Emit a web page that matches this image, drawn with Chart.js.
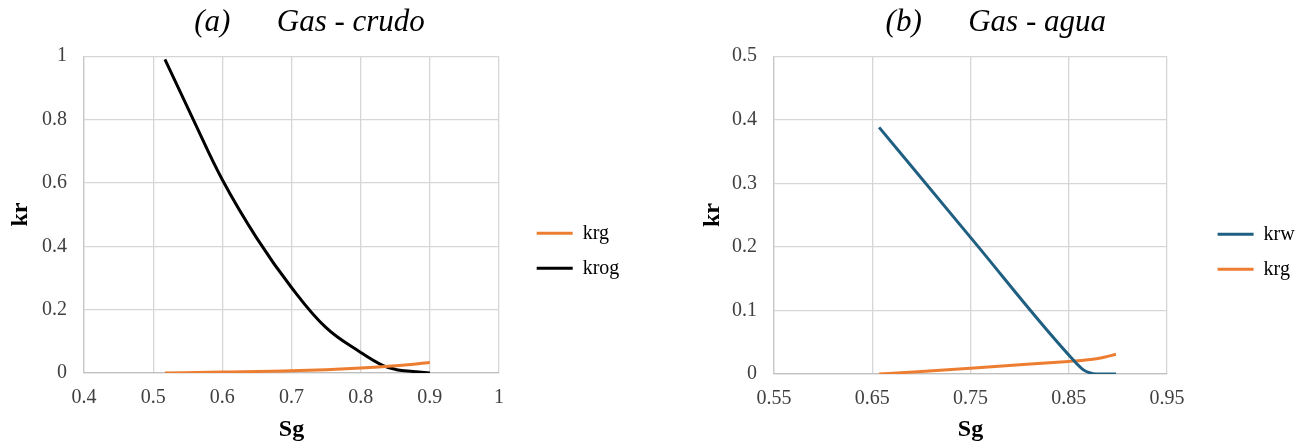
<!DOCTYPE html>
<html>
<head>
<meta charset="utf-8">
<script src="https://cdn.jsdelivr.net/npm/chart.js@4.4.1/dist/chart.umd.min.js"></script>
<style>
  html, body { margin: 0; padding: 0; background: #ffffff; }
  #wrap { display: flex; width: 1310px; height: 445px; }
  canvas { display: block; }
</style>
</head>
<body>
<div id="wrap">
  <canvas id="chartA" width="655" height="445"></canvas>
  <canvas id="chartB" width="655" height="445"></canvas>
</div>
<script>
// ---------- Data ----------
// (a) Gas - crudo
const sgKrgA  = [0.517, 0.6, 0.7, 0.8, 0.85, 0.9];
const krgA    = [0, 0.003, 0.007, 0.016, 0.023, 0.033];
const sgKrogA = [0.517, 0.558, 0.6, 0.65, 0.7, 0.75, 0.8, 0.8325, 0.852, 0.876, 0.9];
const krogA   = [0.99, 0.8, 0.61, 0.425, 0.27, 0.143, 0.065, 0.023, 0.0105, 0.005, 0];
// (b) Gas - agua
const sgKrwB  = [0.657, 0.75, 0.8565, 0.865, 0.871, 0.878, 0.898];
const krwB    = [0.388, 0.215, 0.019, 0.0065, 0.002, 0, 0];
const sgKrgB  = [0.657, 0.7, 0.75, 0.8, 0.85, 0.87, 0.885, 0.898];
const krgB    = [0, 0.004, 0.009, 0.0145, 0.0198, 0.0225, 0.026, 0.031];

// Tick labels
const xTicksA = [0.4, 0.5, 0.6, 0.7, 0.8, 0.9, 1];
const yTicksA = [0, 0.2, 0.4, 0.6, 0.8, 1];
const xTicksB = [0.55, 0.65, 0.75, 0.85, 0.95];
const yTicksB = [0, 0.1, 0.2, 0.3, 0.4, 0.5];

const titleA = '(a)      Gas - crudo';
const titleB = '(b)      Gas - agua';
const xTitle = 'Sg';
const yTitle = 'kr';

const ORANGE = '#ED7D31';
const BLACK = '#000000';
const BLUE = '#1F5F82';
const SERIF = '"Liberation Serif", "Times New Roman", Times, serif';

function pts(xs, ys) { return xs.map((x, i) => ({ x: x, y: ys[i] })); }

// plugin to nudge legend/title blocks after layout
const nudge = {
  id: 'nudge',
  afterLayout(chart, args, opts) {
    const lg = chart.legend;
    if (lg) {
      lg.left += opts.legendDx; lg.right += opts.legendDx;
      lg.top += opts.legendDy; lg.bottom += opts.legendDy;
    }
    const t = chart.titleBlock;
    if (t) { t.left += opts.titleDx; t.right += opts.titleDx; }
  }
};

function lineDs(label, xs, ys, color, smooth) {
  const ds = {
    label: label,
    data: pts(xs, ys),
    showLine: true,
    borderColor: color,
    backgroundColor: color,
    borderWidth: 3,
    pointRadius: 0,
    pointHoverRadius: 0,
    fill: false
  };
  if (smooth === 'bezier') { ds.tension = 0.4; ds.cubicInterpolationMode = 'default'; }
  else { ds.cubicInterpolationMode = 'monotone'; }
  return ds;
}

function makeChart(id, cfg) {
  return new Chart(document.getElementById(id), {
    type: 'scatter',
    data: { datasets: cfg.datasets },
    plugins: [nudge],
    options: {
      responsive: false,
      animation: false,
      devicePixelRatio: 1,
      events: [],
      layout: { padding: cfg.padding },
      scales: {
        x: {
          type: 'linear',
          min: cfg.xTicks[0],
          max: cfg.xTicks[cfg.xTicks.length - 1],
          afterBuildTicks: s => { s.ticks = cfg.xTicks.map(v => ({ value: v })); },
          afterFit: s => { s.height = cfg.xHeight; },
          grid: { color: '#d6d6d6', lineWidth: 1.3, drawTicks: false },
          border: { display: true, color: '#bfbfbf', width: 1.3 },
          ticks: {
            padding: 13,
            color: '#404040',
            font: { family: SERIF, size: 20 },
            maxRotation: 0,
            autoSkip: false,
            callback: v => String(v)
          },
          title: {
            display: true,
            text: xTitle,
            color: '#000',
            font: { family: SERIF, size: 24, weight: 'bold' },
            padding: { top: 0, bottom: 1 }
          }
        },
        y: {
          type: 'linear',
          min: cfg.yTicks[0],
          max: cfg.yTicks[cfg.yTicks.length - 1],
          afterBuildTicks: s => { s.ticks = cfg.yTicks.map(v => ({ value: v })); },
          afterFit: s => { s.width = cfg.yWidth; },
          grid: { color: '#d6d6d6', lineWidth: 1.3, drawTicks: false },
          border: { display: true, color: '#c8c8c8', width: 1.3 },
          ticks: {
            padding: 17,
            color: '#404040',
            font: { family: SERIF, size: 20 },
            autoSkip: false,
            callback: v => String(v)
          },
          title: {
            display: true,
            text: yTitle,
            color: '#000',
            font: { family: SERIF, size: 24, weight: 'bold' },
            padding: { top: 6, bottom: 0 }
          }
        }
      },
      plugins: {
        tooltip: { enabled: false },
        title: {
          display: true,
          text: cfg.title,
          color: '#000',
          font: { family: SERIF, size: 31, style: 'italic', weight: 'normal' },
          padding: { top: 4, bottom: 15 }
        },
        legend: {
          display: true,
          position: 'right',
          maxWidth: 100,
          labels: {
            usePointStyle: true,
            pointStyle: 'line',
            pointStyleWidth: 36,
            padding: 15,
            color: '#000',
            font: { family: SERIF, size: 20 }
          }
        },
        nudge: cfg.nudge
      }
    }
  });
}

makeChart('chartA', {
  title: titleA,
  datasets: [
    lineDs('krg', sgKrgA, krgA, ORANGE, 'monotone'),
    lineDs('krog', sgKrogA, krogA, BLACK, 'bezier')
  ],
  xTicks: xTicksA,
  yTicks: yTicksA,
  padding: { left: 0, right: 56, top: 0, bottom: 0 },
  yWidth: 84,
  xHeight: 72,
  nudge: { legendDx: 22.7, legendDy: 28.3, titleDx: 10 }
});

makeChart('chartB', {
  title: titleB,
  datasets: [
    lineDs('krw', sgKrwB, krwB, BLUE, 'monotone'),
    lineDs('krg', sgKrgB, krgB, ORANGE, 'monotone')
  ],
  xTicks: xTicksB,
  yTicks: yTicksB,
  padding: { left: 37, right: 43, top: 0, bottom: 0 },
  yWidth: 82,
  xHeight: 71,
  nudge: { legendDx: 35.6, legendDy: 29.3, titleDx: 16.3 }
});
</script>
</body>
</html>
